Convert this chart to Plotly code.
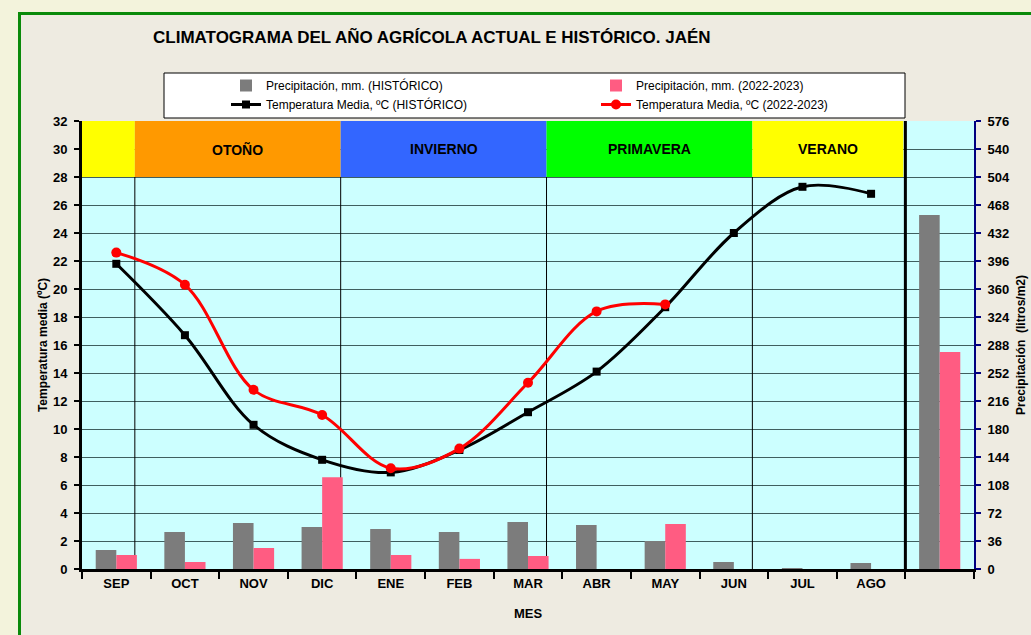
import plotly.graph_objects as go

# ---------------- data ----------------
months = ["SEP", "OCT", "NOV", "DIC", "ENE", "FEB", "MAR", "ABR", "MAY", "JUN", "JUL", "AGO"]
categories = months + ["TOTAL"]
tick_labels = months + [""]

precip_hist = [24.4, 47.6, 59.0, 54.0, 51.4, 47.6, 60.4, 56.6, 36.0, 9.0, 1.0, 7.7, 455.0]
precip_2223 = [18.0, 9.0, 27.0, 118.0, 18.0, 13.0, 16.7, 0.0, 57.9, 0.0, 0.0, 0.0, 279.0]

temp_hist = [21.8, 16.7, 10.3, 7.8, 6.9, 8.5, 11.2, 14.1, 18.7, 24.0, 27.3, 26.8]
temp_2223 = [22.6, 20.3, 12.8, 11.0, 7.2, 8.6, 13.3, 18.4, 18.9]
months_2223 = months[:len(temp_2223)]

seasons = ["", "OTOÑO", "INVIERNO", "PRIMAVERA", "VERANO"]
season_start = [-0.5, 0.27, 3.27, 6.27, 9.27]
season_end = [0.27, 3.27, 6.27, 9.27, 11.47]
season_colors = ["#ffff00", "#ff9900", "#3366ff", "#00ff00", "#ffff00"]

# ---------------- geometry helpers (pixel -> paper) ----------------
W, H = 1031, 635
L, R, T, B = 82, 57, 121, 66
PW, PH = W - L - R, H - T - B


def px(x):
    return (x - L) / PW


def py(y):
    return (H - B - y) / PH


FONT = "Liberation Sans, Arial, sans-serif"

fig = go.Figure()

fig.add_trace(go.Bar(
    x=categories, y=precip_hist, name="Precipitación, mm. (HISTÓRICO)",
    marker=dict(color="#7c7c7c", line=dict(width=0)), yaxis="y2",
))
fig.add_trace(go.Bar(
    x=categories, y=precip_2223, name="Precipitación, mm. (2022-2023)",
    marker=dict(color="#ff5c82", line=dict(width=0)), yaxis="y2",
))
fig.add_trace(go.Scatter(
    x=months, y=temp_hist, name="Temperatura Media, ºC (HISTÓRICO)",
    mode="lines+markers", line=dict(color="black", width=3, shape="spline", smoothing=1),
    marker=dict(symbol="square", size=8, color="black"),
))
fig.add_trace(go.Scatter(
    x=months_2223, y=temp_2223, name="Temperatura Media, ºC (2022-2023)",
    mode="lines+markers", line=dict(color="#ff0000", width=3, shape="spline", smoothing=1),
    marker=dict(symbol="circle", size=10, color="#ff0000"),
))

shapes = []
annotations = []

# season band
for name, x0, x1, c in zip(seasons, season_start, season_end, season_colors):
    shapes.append(dict(type="rect", xref="x", yref="y", x0=x0, x1=x1, y0=28, y1=32,
                       fillcolor=c, line=dict(width=0), layer="between"))
    if name:
        annotations.append(dict(x=(x0 + x1) / 2, y=30, xref="x", yref="y", text="<b>%s</b>" % name,
                                showarrow=False, font=dict(family=FONT, size=14, color="black")))

# season separators
for x0 in season_start[1:]:
    shapes.append(dict(type="line", xref="x", yref="y", x0=x0, x1=x0, y0=0, y1=28,
                       line=dict(color="black", width=1), layer="between"))
shapes.append(dict(type="line", xref="x", yref="y", x0=11.5, x1=11.5, y0=0, y1=32,
                   line=dict(color="black", width=3), layer="between"))

# outer decoration: pale strips and green border
shapes.append(dict(type="rect", xref="paper", yref="paper", x0=px(0), x1=px(18), y0=py(0), y1=py(H),
                   fillcolor="#f3f3dc", line=dict(width=0), layer="below"))
shapes.append(dict(type="rect", xref="paper", yref="paper", x0=px(0), x1=px(W), y0=py(0), y1=py(12),
                   fillcolor="#f3f3dc", line=dict(width=0), layer="below"))
shapes.append(dict(type="line", xref="paper", yref="paper", x0=px(19.5), x1=px(19.5), y0=py(12), y1=py(H),
                   line=dict(color="#0a8a0a", width=3), layer="below"))
shapes.append(dict(type="line", xref="paper", yref="paper", x0=px(18), x1=px(W), y0=py(13.5), y1=py(13.5),
                   line=dict(color="#0a8a0a", width=3), layer="below"))

# legend box
shapes.append(dict(type="rect", xref="paper", yref="paper", x0=px(164), x1=px(905), y0=py(73), y1=py(118),
                   fillcolor="white", line=dict(color="black", width=1), layer="above"))

fig.update_layout(
    width=W, height=H,
    margin=dict(l=L, r=R, t=T, b=B, autoexpand=False),
    paper_bgcolor="#eeebe1",
    plot_bgcolor="#ccffff",
    font=dict(family=FONT, size=12, color="black"),
    title=dict(text="<b>CLIMATOGRAMA DEL AÑO AGRÍCOLA ACTUAL E HISTÓRICO. JAÉN</b>",
               x=153 / W, xanchor="left", y=1 - 37 / H, yanchor="middle",
               font=dict(family=FONT, size=17, color="black")),
    barmode="group", bargap=0.4, bargroupgap=0,
    showlegend=True,
    legend=dict(orientation="h", x=px(226), xanchor="left", y=py(71), yanchor="top",
                bgcolor="rgba(0,0,0,0)", borderwidth=0, entrywidth=325, entrywidthmode="pixels",
                font=dict(family=FONT, size=12, color="black"), traceorder="normal"),
    xaxis=dict(type="category", categoryorder="array", categoryarray=categories,
               tickmode="array", tickvals=categories, ticktext=tick_labels,
               tickson="boundaries", ticks="outside", ticklen=7, tickwidth=2, tickcolor="black",
               showline=True, linecolor="black", linewidth=3, showgrid=False,
               range=[-0.5, 12.5],
               tickfont=dict(family=FONT, size=13, color="black", weight="bold"),
               title=dict(text="<b>MES</b>", standoff=20, font=dict(family=FONT, size=13))),
    yaxis=dict(range=[0, 32], dtick=2, tick0=0, showgrid=True, gridcolor="#3f5f5f", gridwidth=1,
               showline=True, linecolor="black", linewidth=3, ticks="outside", ticklen=5,
               tickwidth=2, tickcolor="black", zeroline=False, ticklabelstandoff=4,
               tickfont=dict(family=FONT, size=13, color="black", weight="bold"),
               title=dict(text="<b>Temperatura media (ºC)</b>", standoff=3, font=dict(family=FONT, size=12))),
    yaxis2=dict(range=[0, 576], dtick=36, tick0=0, overlaying="y", side="right", showgrid=False,
                showline=True, linecolor="#000080", linewidth=2, ticks="outside", ticklen=5,
                tickwidth=2, tickcolor="#000080", zeroline=False, ticklabelstandoff=4,
                tickfont=dict(family=FONT, size=13, color="black", weight="bold"),
                title=dict(text="<b>Precipitación  (litros/m2)</b>", standoff=8, font=dict(family=FONT, size=12))),
    shapes=shapes,
    annotations=annotations,
)

fig.write_html("out.html", config={"displayModeBar": False},
               post_script="document.body.style.margin='0px';")
